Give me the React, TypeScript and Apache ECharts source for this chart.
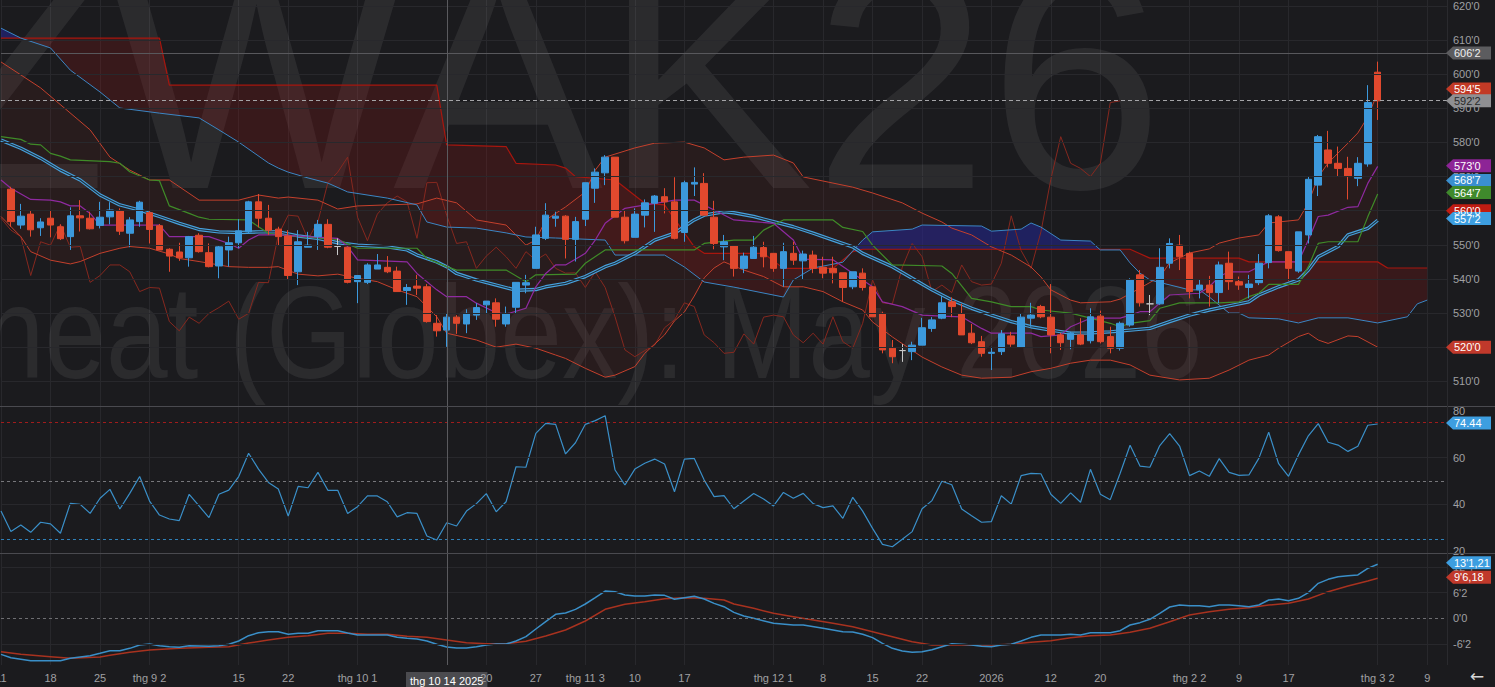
import React, { useEffect, useRef } from 'react';
import * as echarts from 'echarts';

// ---------- categories (trading days) ----------
const TRADING_DAYS: [number, number, number[]][] = [
  [2025, 8, [11, 12, 13, 14, 15, 18, 19, 20, 21, 22, 25, 26, 27, 28, 29]],
  [2025, 9, [2, 3, 4, 5, 8, 9, 10, 11, 12, 15, 16, 17, 18, 19, 22, 23, 24, 25, 26, 29, 30]],
  [2025, 10, [1, 2, 3, 6, 7, 8, 9, 10, 13, 14, 15, 16, 17, 20, 21, 22, 23, 24, 27, 28, 29, 30, 31]],
  [2025, 11, [3, 4, 5, 6, 7, 10, 11, 12, 13, 14, 17, 18, 19, 20, 21, 24, 25, 26, 28]],
  [2025, 12, [1, 2, 3, 4, 5, 8, 9, 10, 11, 12, 15, 16, 17, 18, 19, 22, 23, 24, 26, 29, 30, 31]],
  [2026, 1, [2, 5, 6, 7, 8, 9, 12, 13, 14, 15, 16, 20, 21, 22, 23, 26, 27, 28, 29, 30]],
  [2026, 2, [2, 3, 4, 5, 6, 9, 10, 11, 12, 13, 17, 18, 19, 20, 23, 24, 25, 26, 27]],
  [2026, 3, [2, 3, 4, 5, 6, 9, 10, 11]],
];
const CATEGORIES: string[] = TRADING_DAYS.flatMap(([y, m, days]) =>
  days.map((d) => `${y}-${String(m).padStart(2, '0')}-${String(d).padStart(2, '0')}`)
);

const X_TICKS: [string, string][] = [
  ['2025-08-11', '11'], ['2025-08-18', '18'], ['2025-08-25', '25'], ['2025-09-02', 'thg 9 2'],
  ['2025-09-15', '15'], ['2025-09-22', '22'], ['2025-10-01', 'thg 10 1'], ['2025-10-20', '20'],
  ['2025-10-27', '27'], ['2025-11-03', 'thg 11 3'], ['2025-11-10', '10'], ['2025-11-17', '17'],
  ['2025-12-01', 'thg 12 1'], ['2025-12-08', '8'], ['2025-12-15', '15'], ['2025-12-22', '22'],
  ['2026-01-02', '2026'], ['2026-01-12', '12'], ['2026-01-20', '20'], ['2026-02-02', 'thg 2 2'],
  ['2026-02-09', '9'], ['2026-02-17', '17'], ['2026-03-02', 'thg 3 2'], ['2026-03-09', '9'],
];
const CROSSHAIR: [string, string] = ['2025-10-14', 'thg 10 14 2025'];

// ---------- price candles [open, close, low, high], first bar = 2025-08-12 ----------
const FIRST_BAR_DATE = '2025-08-12';
const CANDLES: number[][] = [
  [566.3, 556.8, 555.3, 567.0], [555.8, 558.4, 554.7, 562.0], [559.0, 554.4, 552.4, 560.2], [555.0, 556.7, 552.6, 557.8],
  [557.8, 555.8, 552.2, 560.2], [555.3, 551.8, 551.4, 556.0], [552.4, 558.5, 548.5, 561.0], [558.5, 557.9, 553.9, 563.1],
  [557.8, 554.7, 554.5, 559.7], [555.7, 558.1, 554.8, 562.6], [558.2, 560.2, 556.0, 562.5], [560.0, 554.0, 552.9, 560.7],
  [553.4, 557.3, 549.3, 558.1], [556.8, 562.5, 555.3, 562.9], [559.4, 554.5, 550.4, 560.2], [555.6, 548.5, 548.5, 556.1],
  [548.7, 546.7, 542.1, 549.0], [547.9, 546.2, 545.3, 550.6], [546.2, 552.4, 543.6, 552.6], [552.8, 548.0, 547.7, 553.4],
  [547.7, 543.6, 543.4, 550.4], [543.8, 549.4, 540.2, 549.9], [548.5, 550.6, 543.6, 552.4], [550.6, 554.1, 549.0, 557.5],
  [553.8, 562.6, 553.2, 562.9], [562.6, 557.8, 555.1, 564.9], [557.8, 554.3, 552.9, 561.7], [554.6, 552.4, 549.9, 555.3],
  [552.6, 541.0, 539.7, 554.3], [542.1, 550.9, 538.2, 554.3], [549.3, 549.9, 549.3, 553.8], [552.4, 556.0, 548.5, 557.3],
  [556.0, 549.3, 549.0, 557.5], [549.5, 549.5, 547.0, 551.9], [549.3, 539.0, 538.7, 549.3], [539.2, 541.0, 532.9, 541.0],
  [539.0, 544.1, 538.5, 544.6], [542.9, 544.1, 542.9, 547.3], [543.4, 542.1, 541.7, 546.7], [542.3, 536.3, 536.3, 543.6],
  [536.6, 537.5, 532.4, 538.5], [537.9, 537.3, 535.3, 541.2], [537.7, 527.5, 527.2, 538.5], [527.0, 524.8, 523.1, 529.4],
  [525.0, 528.8, 520.1, 529.9], [528.8, 527.0, 523.9, 529.4], [526.8, 529.9, 524.1, 531.1], [529.4, 531.6, 528.0, 532.9],
  [532.4, 533.5, 529.9, 533.5], [533.0, 528.2, 526.0, 534.3], [526.8, 529.9, 526.0, 531.9], [531.7, 539.0, 529.9, 539.0],
  [538.2, 538.9, 535.8, 541.2], [543.1, 552.9, 543.1, 555.3], [551.9, 558.7, 551.4, 562.2], [557.8, 558.4, 555.3, 559.7],
  [558.4, 551.6, 546.0, 558.7], [551.6, 556.8, 545.1, 558.2], [557.5, 568.2, 555.5, 568.2], [566.6, 571.3, 562.3, 572.4],
  [571.1, 575.7, 567.5, 576.3], [575.7, 558.1, 558.1, 575.7], [558.1, 551.2, 550.4, 560.0], [552.2, 559.0, 552.2, 560.7],
  [558.7, 562.3, 555.1, 563.3], [562.2, 564.3, 553.8, 564.6], [564.1, 562.6, 559.2, 566.6], [562.6, 551.9, 551.6, 569.8],
  [553.6, 568.2, 550.9, 568.8], [567.8, 568.3, 564.3, 572.7], [568.0, 558.7, 558.7, 571.0], [558.1, 550.4, 548.7, 562.9],
  [549.4, 550.9, 545.5, 552.9], [549.7, 543.1, 540.7, 549.7], [543.1, 546.7, 541.7, 547.7], [546.0, 549.3, 546.0, 552.6],
  [549.2, 546.5, 543.4, 550.9], [547.5, 543.1, 542.1, 547.5], [543.1, 548.0, 537.7, 550.6], [547.5, 545.5, 544.1, 550.9],
  [545.3, 547.3, 539.7, 548.3], [547.0, 543.1, 541.7, 548.3], [543.4, 541.7, 540.2, 546.5], [543.1, 541.8, 538.7, 546.5],
  [541.8, 537.5, 533.3, 541.8], [537.7, 542.1, 537.0, 542.1], [541.7, 537.5, 536.6, 543.1], [537.7, 528.9, 528.9, 537.7],
  [529.9, 519.2, 518.2, 530.4], [519.7, 517.2, 515.3, 522.1], [519.0, 519.0, 515.7, 520.9], [518.7, 520.6, 516.2, 521.6],
  [520.6, 525.7, 520.6, 528.6], [525.5, 528.0, 524.5, 528.8], [528.5, 533.0, 528.2, 535.0], [533.3, 531.9, 528.8, 534.6],
  [529.7, 523.6, 523.6, 532.7], [524.1, 521.3, 520.9, 526.8], [521.6, 518.2, 517.2, 523.3], [518.2, 518.5, 513.3, 520.1],
  [518.7, 523.9, 517.7, 525.0], [523.3, 520.9, 520.1, 524.5], [520.0, 528.8, 520.0, 529.9], [528.5, 529.4, 526.0, 533.0],
  [531.9, 528.9, 528.5, 532.4], [528.8, 523.6, 518.2, 538.5], [523.6, 521.3, 519.2, 524.2], [522.3, 524.1, 519.4, 524.5],
  [523.6, 520.9, 520.6, 528.5], [521.9, 528.9, 521.1, 531.4], [529.1, 521.6, 521.1, 530.7], [523.1, 519.7, 518.2, 526.0],
  [519.7, 527.0, 519.0, 527.5], [526.5, 539.7, 526.0, 540.2], [541.2, 533.0, 531.9, 542.6], [532.7, 532.7, 529.4, 535.3],
  [532.7, 543.4, 532.4, 549.0], [544.6, 550.4, 543.1, 551.9], [549.9, 546.5, 542.6, 552.9], [547.5, 536.3, 534.3, 548.0],
  [536.8, 538.2, 534.3, 539.7], [538.2, 536.0, 531.9, 540.9], [536.0, 544.1, 532.9, 545.1], [544.6, 539.2, 536.8, 548.0],
  [539.2, 538.2, 536.8, 540.7], [537.5, 538.5, 534.3, 541.2], [538.9, 544.6, 538.2, 547.3], [544.8, 558.5, 543.1, 559.0],
  [558.2, 548.3, 548.0, 558.7], [548.0, 543.1, 539.5, 548.0], [542.3, 553.8, 541.8, 553.8], [552.9, 569.2, 550.4, 570.0],
  [567.5, 581.7, 564.3, 582.2], [577.8, 573.9, 572.7, 583.4], [573.9, 572.4, 570.0, 578.8], [572.4, 570.0, 563.3, 575.8],
  [569.5, 573.9, 567.2, 575.7], [573.7, 591.7, 572.9, 596.8], [600.6, 592.2, 586.6, 603.7],
];
const CHIKOU_SHIFT = 26;

// ---------- indicator lines: [bar index, value] read at the line's vertices ----------
const BB_UPPER: number[][] = [
  [0, 603.6], [4, 596.0], [9, 583.7], [11, 575.7], [13, 571.9], [15, 569.0], [17, 569.0], [20, 563.1], [24, 563.1],
  [26, 564.6], [28, 563.7], [29, 564.0], [32, 563.1], [34, 560.5], [36, 561.4], [39, 561.7], [42, 562.0], [44, 563.7],
  [46, 562.3], [48, 557.3], [51, 555.8], [53, 549.9], [54, 551.4], [55, 557.3], [57, 561.1], [59, 565.5], [60, 571.9],
  [61, 575.7], [64, 578.4], [66, 579.8], [69, 580.1], [71, 578.4], [73, 574.9], [75, 575.7], [78, 576.3], [80, 574.0],
  [81, 569.9], [84, 568.1], [86, 566.9], [88, 565.2], [91, 562.3], [93, 559.3], [95, 556.7], [96, 554.9], [98, 552.9],
  [100, 549.4], [102, 547.0], [104, 543.5], [105, 540.6], [106, 536.8], [108, 533.8], [109, 533.0], [112, 533.3],
  [113, 534.1], [115, 537.3], [117, 540.6], [118, 544.7], [120, 547.6], [122, 548.8], [123, 550.5], [125, 552.0],
  [127, 552.9], [128, 556.4], [131, 557.3], [132, 562.3], [133, 569.9], [134, 574.0], [135, 576.9], [136, 579.8],
  [137, 582.8], [138, 587.5], [139, 594.6],
];
const BB_LOWER: number[][] = [
  [0, 558.3], [2, 552.4], [3, 548.0], [5, 545.5], [7, 544.4], [8, 545.1], [10, 547.5], [12, 549.0], [13, 549.5],
  [15, 549.0], [17, 547.3], [18, 546.0], [20, 545.1], [22, 544.1], [23, 543.6], [25, 543.4], [27, 543.4], [28, 543.6],
  [30, 541.4], [32, 540.9], [34, 541.4], [36, 540.2], [38, 539.2], [40, 536.8], [42, 534.8], [44, 528.9], [45, 524.1],
  [48, 522.1], [50, 520.0], [52, 520.9], [54, 519.7], [56, 517.7], [57, 516.7], [59, 513.8], [61, 511.2], [62, 511.8],
  [64, 514.3], [65, 518.2], [67, 523.6], [68, 527.7], [69, 530.3], [70, 535.0], [71, 540.3], [72, 543.2], [73, 545.0],
  [75, 542.6], [77, 540.7], [79, 537.7], [81, 537.7], [83, 536.3], [85, 533.3], [87, 530.9], [88, 527.4], [90, 523.0],
  [93, 517.1], [95, 514.2], [97, 511.8], [99, 510.9], [102, 511.2], [104, 512.8], [106, 513.8], [108, 515.3],
  [110, 516.2], [112, 516.2], [114, 514.8], [116, 511.8], [119, 510.4], [122, 510.9], [124, 513.3], [126, 516.2],
  [128, 517.7], [129, 519.7], [131, 523.1], [132, 524.1], [133, 522.1], [134, 521.1], [136, 523.3], [137, 523.1],
  [139, 520.0],
];
const BB_MID: number[][] = [
  [0, 580.7], [2, 578.3], [4, 575.4], [6, 571.9], [8, 569.0], [10, 564.6], [12, 561.7], [14, 560.2], [16, 558.3],
  [18, 556.3], [20, 554.5], [22, 553.8], [24, 553.6], [26, 553.8], [28, 553.8], [30, 552.6], [32, 551.9], [34, 550.6],
  [36, 549.9], [39, 549.4], [41, 548.5], [42, 547.0], [44, 545.0], [45, 543.6], [46, 541.6], [48, 539.7], [50, 538.2],
  [52, 536.7], [54, 536.9], [55, 537.7], [57, 538.7], [59, 540.7], [61, 543.6], [62, 544.6], [64, 547.5], [66, 551.4],
  [68, 553.4], [70, 557.3], [71, 558.7], [73, 559.7], [74, 559.4], [76, 558.3], [78, 556.8], [80, 555.3], [82, 553.4],
  [84, 551.4], [86, 549.4], [87, 547.5], [90, 543.6], [92, 540.2], [94, 536.8], [96, 533.8], [98, 531.4], [100, 529.4],
  [102, 527.5], [104, 526.0], [106, 525.0], [108, 524.1], [110, 524.2], [112, 524.5], [114, 525.0], [116, 525.5],
  [118, 527.5], [120, 529.4], [122, 530.9], [124, 532.1], [126, 533.3], [127, 535.3], [129, 537.7], [131, 539.7],
  [132, 542.6], [133, 546.5], [135, 549.5], [136, 552.9], [138, 554.8], [139, 557.2],
];
const TENKAN: number[][] = [
  [0, 569.0], [1, 566.6], [3, 563.3], [5, 563.1], [6, 562.6], [7, 561.4], [8, 561.4], [9, 559.2], [10, 555.8],
  [16, 555.8], [17, 552.4], [21, 552.4], [23, 550.4], [24, 549.0], [25, 551.4], [26, 552.9], [28, 552.9], [34, 551.9],
  [35, 549.5], [36, 545.6], [41, 545.0], [42, 541.6], [44, 536.8], [45, 534.8], [47, 534.8], [48, 532.9], [50, 530.1],
  [51, 529.7], [53, 531.4], [54, 537.7], [55, 541.6], [56, 544.1], [57, 544.1], [59, 547.5], [60, 551.4], [61, 556.3],
  [63, 560.7], [64, 561.2], [67, 562.6], [68, 563.1], [70, 563.1], [72, 560.2], [74, 557.3], [76, 556.8], [78, 556.3],
  [80, 551.4], [81, 545.8], [84, 545.6], [86, 541.7], [88, 537.7], [89, 533.3], [91, 531.9], [93, 529.4], [95, 529.1],
  [97, 528.9], [99, 525.5], [100, 524.1], [104, 524.1], [105, 523.1], [107, 523.6], [108, 526.0], [110, 528.5],
  [113, 528.5], [114, 529.4], [115, 530.4], [116, 530.4], [117, 532.9], [118, 535.3], [121, 535.8], [122, 537.7],
  [123, 540.7], [124, 542.1], [126, 542.1], [127, 543.6], [128, 545.0], [131, 545.0], [132, 551.4], [133, 558.3],
  [134, 558.7], [136, 561.0], [137, 561.2], [138, 568.0], [139, 573.0],
];
const KIJUN: number[][] = [
  [0, 581.7], [2, 580.9], [3, 579.5], [4, 579.3], [5, 576.8], [6, 576.0], [7, 574.9], [11, 574.4], [12, 573.9],
  [13, 571.4], [15, 569.0], [16, 568.8], [17, 561.4], [19, 559.2], [20, 558.1], [21, 557.5], [25, 557.3], [26, 555.3],
  [27, 553.4], [28, 552.9], [34, 551.6], [36, 549.0], [42, 549.0], [43, 546.0], [45, 543.6], [46, 542.6], [51, 542.6],
  [53, 539.2], [54, 541.2], [58, 541.4], [59, 544.6], [61, 548.5], [70, 548.5], [71, 550.4], [74, 551.4], [76, 551.4],
  [77, 554.3], [79, 557.3], [84, 557.3], [85, 555.1], [87, 553.9], [88, 549.9], [90, 544.1], [95, 543.8], [96, 541.6],
  [98, 534.3], [100, 533.3], [102, 531.9], [104, 531.9], [105, 530.9], [108, 530.0], [110, 528.5], [112, 527.0],
  [113, 526.0], [114, 527.0], [116, 527.8], [117, 531.4], [119, 533.0], [123, 533.0], [125, 533.3], [126, 534.8],
  [127, 535.8], [128, 538.4], [131, 538.4], [132, 543.6], [133, 550.4], [134, 550.9], [137, 550.9], [138, 558.2],
  [139, 564.9],
];
const SENKOU_A: number[][] = [
  [0, 613.5], [2, 610.6], [5, 607.7], [7, 601.2], [10, 594.8], [12, 590.1], [16, 588.6], [20, 587.2], [22, 583.7],
  [24, 580.1], [27, 574.0], [28, 572.5], [29, 571.3], [31, 569.6], [33, 568.1], [35, 565.5], [39, 563.7], [42, 561.7],
  [43, 556.7], [45, 555.2], [48, 554.9], [51, 553.5], [53, 552.3], [56, 552.0], [61, 551.4], [62, 547.0], [67, 547.0],
  [69, 543.5], [71, 539.1], [74, 537.6], [79, 534.7], [80, 539.7], [82, 543.2], [85, 544.9], [86, 548.2], [87, 551.4],
  [88, 553.8], [92, 554.6], [93, 555.8], [99, 555.5], [100, 554.0], [103, 554.6], [104, 556.4], [105, 555.2],
  [107, 551.4], [110, 551.1], [111, 548.5], [113, 548.5], [114, 544.7], [115, 541.7], [116, 539.7], [120, 536.8],
  [121, 536.8], [122, 534.7], [124, 530.0], [125, 530.0], [126, 528.6], [129, 528.3], [131, 527.1], [133, 528.6],
  [136, 528.6], [139, 527.1], [142, 528.9], [143, 532.7], [144, 533.8],
];
const SENKOU_B: number[][] = [
  [0, 610.6], [16, 610.6], [17, 596.8], [44, 596.8], [45, 579.3], [51, 578.8], [52, 573.9], [56, 573.4], [57, 572.5],
  [58, 570.0], [62, 569.0], [65, 562.2], [67, 561.7], [70, 549.4], [71, 547.5], [77, 547.5], [79, 543.1], [84, 543.1],
  [86, 548.0], [87, 548.7], [113, 548.7], [114, 548.7], [116, 546.1], [125, 546.1], [126, 545.0], [139, 545.0],
  [140, 543.2], [144, 543.2],
];
// cloud colour segments [from, to, bullish?]
const CLOUD_SEGMENTS: [number, number, boolean][] = [[0, 2, true], [2, 86, false], [86, 113, true], [113, 146, false]];

// ---------- RSI (one value per bar, from bar 0) ----------
const RSI: number[] = [
  37.1, 28.3, 31.1, 28.0, 32.3, 31.6, 27.6, 40.4, 40.0, 36.1, 42.6, 46.4, 38.0, 44.7, 51.9, 41.4, 35.4, 33.7, 33.0, 44.3,
  39.3, 34.3, 44.3, 46.1, 51.9, 61.9, 55.1, 49.4, 46.6, 35.0, 47.7, 47.1, 53.7, 46.0, 46.0, 36.1, 39.0, 43.6, 43.6, 41.1,
  34.6, 36.4, 36.1, 26.4, 24.7, 32.1, 30.7, 37.1, 40.3, 44.6, 36.8, 41.1, 56.1, 55.9, 70.4, 74.7, 74.3, 61.6, 66.4, 74.3,
  75.9, 78.0, 54.7, 48.3, 55.1, 57.6, 59.4, 57.3, 45.4, 59.4, 59.7, 50.4, 43.3, 43.7, 38.1, 41.4, 44.6, 42.3, 39.3, 45.1,
  42.6, 44.7, 40.3, 38.6, 39.3, 34.0, 43.0, 37.1, 29.7, 22.8, 21.8, 25.0, 28.3, 38.1, 41.6, 49.9, 48.4, 38.0, 35.1, 32.3,
  32.6, 43.7, 40.1, 52.3, 53.3, 53.1, 44.3, 40.4, 44.9, 40.9, 55.0, 44.3, 42.0, 53.3, 65.3, 56.4, 55.9, 65.2, 70.3, 65.0,
  52.3, 54.3, 52.0, 59.6, 53.7, 52.4, 52.6, 59.7, 70.9, 57.4, 52.0, 61.2, 69.4, 74.6, 66.6, 65.4, 62.7, 64.9, 73.9, 74.44,
];
const RSI_LEVELS = { upper: 75, middle: 50, lower: 25 };

// ---------- MACD ----------
const MACD_LINE: number[][] = [
  [0, -8.77], [1, -9.58], [3, -10.31], [6, -10.31], [7, -9.74], [9, -9.09], [10, -8.52], [11, -7.88], [12, -7.88],
  [13, -7.31], [14, -6.5], [15, -6.25], [16, -6.66], [17, -6.9], [18, -7.06], [19, -6.66], [21, -6.82], [22, -6.66],
  [23, -6.33], [24, -5.52], [25, -4.23], [26, -3.5], [27, -3.25], [28, -3.25], [29, -3.9], [30, -3.66], [31, -3.66],
  [32, -3.01], [34, -3.01], [35, -3.58], [36, -4.06], [39, -4.06], [40, -4.63], [41, -4.87], [42, -5.04], [43, -5.52],
  [44, -6.33], [45, -6.98], [46, -7.23], [47, -7.23], [48, -6.9], [49, -6.5], [50, -6.25], [51, -6.25], [52, -5.52],
  [53, -4.47], [54, -2.6], [55, -0.82], [56, 0.97], [57, 1.29], [58, 2.18], [59, 3.48], [60, 5.02], [61, 6.64],
  [62, 6.48], [63, 5.67], [64, 5.43], [65, 5.43], [66, 5.67], [67, 5.59], [68, 4.62], [69, 5.02], [70, 5.35], [71, 4.7],
  [72, 3.64], [73, 2.83], [74, 1.45], [75, 0.56], [76, -0.01], [78, -1.22], [80, -1.63], [81, -1.63], [83, -2.44],
  [85, -3.25], [86, -3.33], [87, -3.9], [88, -4.71], [89, -6.09], [90, -7.31], [91, -7.96], [92, -8.28], [93, -8.12],
  [94, -7.63], [95, -6.9], [96, -6.17], [97, -6.33], [98, -6.5], [99, -6.82], [100, -6.9], [101, -6.5], [102, -6.33],
  [103, -5.52], [104, -4.63], [105, -4.06], [107, -4.06], [108, -3.9], [109, -4.06], [110, -3.5], [112, -3.5],
  [113, -3.01], [114, -1.63], [115, -1.06], [116, -0.25], [117, 1.21], [118, 2.75], [119, 3.24], [120, 3.07],
  [121, 3.07], [122, 2.83], [123, 3.24], [124, 3.24], [125, 3.07], [126, 2.83], [127, 3.24], [128, 4.45], [129, 4.7],
  [130, 4.29], [131, 4.86], [132, 6.24], [133, 8.51], [134, 9.48], [135, 10.13], [136, 10.37], [137, 10.54],
  [138, 12.16], [139, 13.15],
];
const MACD_SIGNAL: number[][] = [
  [0, -8.12], [2, -8.77], [5, -9.34], [7, -9.74], [10, -9.42], [11, -9.0], [13, -8.28], [15, -7.71], [18, -7.31],
  [21, -7.06], [23, -6.9], [25, -6.01], [27, -5.28], [29, -4.63], [31, -4.23], [33, -3.66], [35, -3.66], [37, -3.9],
  [39, -3.9], [41, -4.39], [43, -4.63], [45, -5.28], [47, -5.93], [49, -6.17], [51, -6.17], [53, -5.6], [55, -4.31],
  [57, -2.85], [59, -0.66], [61, 2.18], [63, 3.4], [65, 4.05], [67, 4.78], [69, 5.02], [71, 4.86], [73, 4.45],
  [74, 3.48], [76, 2.43], [78, 1.21], [80, 0.4], [82, -0.41], [84, -1.22], [86, -2.04], [88, -3.25], [90, -4.47],
  [92, -5.69], [94, -6.5], [100, -6.5], [102, -6.33], [104, -5.85], [106, -5.44], [108, -4.71], [110, -4.23],
  [112, -4.06], [114, -3.41], [116, -2.44], [118, -0.82], [120, 0.8], [122, 1.61], [124, 2.18], [126, 2.59],
  [128, 3.24], [130, 3.64], [132, 4.7], [134, 6.48], [136, 7.86], [138, 9.08], [139, 9.75],
];

// ---------- axis ticks & value tags ----------
const PRICE_GRID: number[] = [510, 520, 530, 540, 550, 560, 570, 580, 590, 600, 610, 620];
const HIGH_LINE = 606.25;
const LAST_PRICE = 592.25;
const RSI_GRID: number[] = [40, 60];
const MACD_GRID: number[] = [-6.25, 6.25, 12.5];

const PRICE_TAGS = [
  { value: 606.25, text: "606'2", color: '#5c5c5f', textColor: '#eeeeee', dy: 0 },
  { value: 594.625, text: "594'5", color: '#c23a26', textColor: '#ffffff', dy: -3.5 },
  { value: 592.25, text: "592'2", color: '#8f8f92', textColor: '#2a2a2a', dy: 0 },
  { value: 573.0, text: "573'0", color: '#8d2496', textColor: '#ffffff', dy: -0.5 },
  { value: 568.875, text: "568'7", color: '#3a8fcf', textColor: '#ffffff', dy: 0 },
  { value: 564.875, text: "564'7", color: '#3f8a2c', textColor: '#ffffff', dy: -1.5 },
  { value: 560.0, text: "560'0", color: '#c01c12', textColor: '#ffffff', dy: 0 },
  { value: 557.25, text: "557'2", color: '#3d9ee0', textColor: '#ffffff', dy: -1.5 },
  { value: 520.0, text: "520'0", color: '#c0392b', textColor: '#ffffff', dy: 0 },
];
const RSI_TAGS = [{ value: 74.44, text: '74.44', color: '#3d9ee0', textColor: '#ffffff', dy: -1 }];
const MACD_TAGS = [
  { value: 13.15, text: "13'1,21", color: '#3d9ee0', textColor: '#ffffff', dy: -1.5 },
  { value: 9.75, text: "9'6,18", color: '#c0392b', textColor: '#ffffff', dy: -1 },
];

const WATERMARK_SYMBOL = 'ZWAK26';
const WATERMARK_NAME = 'Wheat (Globex): May 2026';

// ---------- styles ----------
const BG = '#1b1b1e';
const GRID_C = '#28282c';
const UP = '#3c99dc';
const DOWN = '#e1492e';
const FONT = '"Liberation Sans", Arial, sans-serif';
const LABEL_C = '#a0a0a3';

const fmtEighths = (v: number) => {
  const sign = v < 0 ? '-' : '';
  const a = Math.abs(v);
  let i = Math.floor(a + 1e-9);
  let e = Math.round((a - i) * 8);
  if (e === 8) { i += 1; e = 0; }
  return `${sign}${i}'${e}`;
};

const idxOf = (d: string) => CATEGORIES.indexOf(d);

export default function App() {
  const ref = useRef<HTMLDivElement>(null);

  useEffect(() => {
    const el = ref.current;
    if (!el) return;
    const chart = echarts.init(el, null, { renderer: 'svg' });

    const firstBar = idxOf(FIRST_BAR_DATE);
    const closes: number[] = [];
    CANDLES.forEach((c, k) => { closes[firstBar + k] = c[1]; });
    const chikou: number[][] = [];
    for (let i = 0; i < CATEGORIES.length; i++) {
      const c = closes[i + CHIKOU_SHIFT];
      if (c !== undefined) chikou.push([i, c]);
    }
    const candleData = CANDLES.map((c, k) => [firstBar + k, c[0], c[1], c[2], c[3]]);

    const tickMap = new Map<number, string>();
    X_TICKS.forEach(([d, l]) => tickMap.set(idxOf(d), l));
    const crossIdx = idxOf(CROSSHAIR[0]);

    const LEFT = 1;
    const RIGHT = 48;
    const gridBase = { left: LEFT, right: RIGHT, containLabel: false, outerBoundsMode: 'none' };

    const hiddenX = (gi: number) => ({
      type: 'category', gridIndex: gi, data: CATEGORIES, boundaryGap: false,
      axisLine: { show: false }, axisTick: { show: false }, axisLabel: { show: false }, splitLine: { show: false },
    });

    const lineS = (data: number[][], color: string, width = 1, extra: any = {}) => ({
      type: 'line', xAxisIndex: 0, yAxisIndex: 0, data, symbol: 'none', silent: true, z: 3,
      lineStyle: { color, width }, ...extra,
    });

    const fillRender = (params: any, api: any) => {
      const band = (upper: number[][], lower: number[][], a: number, b: number) => {
        const up = upper.filter((p) => p[0] >= a && p[0] <= b);
        const lo = lower.filter((p) => p[0] >= a && p[0] <= b).slice().reverse();
        return up.concat(lo).map((p) => api.coord([p[0], p[1]]));
      };
      const children: any[] = [
        { type: 'polygon', shape: { points: band(BB_UPPER, BB_LOWER, 0, 146) }, style: { fill: 'rgba(150,40,30,0.11)' } },
      ];
      CLOUD_SEGMENTS.forEach(([a, b, bull]) => {
        children.push({
          type: 'polygon',
          shape: { points: band(SENKOU_B, SENKOU_A, a, b) },
          style: { fill: bull ? 'rgba(34,38,150,0.55)' : 'rgba(150,22,22,0.24)' },
        });
      });
      return { type: 'group', children };
    };

    const crossRender = (params: any, api: any) => {
      const x = Math.round(api.coord([api.value(0), 0.5])[0]) + 0.5;
      const cs = params.coordSys;
      return { type: 'line', shape: { x1: x, y1: cs.y, x2: x, y2: cs.y + cs.height }, style: { stroke: '#5a5a5e', lineWidth: 1 } };
    };

    const option: any = {
      animation: false,
      backgroundColor: BG,
      textStyle: { fontFamily: FONT },
      grid: [
        { ...gridBase, top: -28.118, height: 443.53 },   // price pane (500..630)
        { ...gridBase, top: 364.4, height: 233.2 },      // RSI pane (0..100)
        { ...gridBase, top: 541.24, height: 128.44 },    // MACD pane (-12.5..18.75)
        { ...gridBase, top: 0, height: 665 },            // vertical grid + x labels
      ],
      xAxis: [
        hiddenX(0), hiddenX(1), hiddenX(2),
        {
          type: 'category', gridIndex: 3, data: CATEGORIES, boundaryGap: false,
          axisLine: { show: false }, axisTick: { show: false },
          splitLine: { show: true, interval: (i: number) => tickMap.has(i), lineStyle: { color: GRID_C, width: 1 } },
          axisLabel: {
            interval: 0, margin: 7, color: LABEL_C, fontSize: 11, fontFamily: FONT,
            formatter: (_v: string, i: number) => {
              if (i === crossIdx) return `{hl|${CROSSHAIR[1]}}`;
              return tickMap.get(i) ?? '';
            },
            rich: { hl: { backgroundColor: '#4b4b4f', color: '#ffffff', padding: [3, 4, 3, 4], fontSize: 11, fontFamily: FONT } },
          },
        },
      ],
      yAxis: [
        {
          type: 'value', gridIndex: 0, position: 'right', min: 500, max: 630, interval: 10, scale: false,
          axisLine: { show: false }, axisTick: { show: false }, splitLine: { show: false },
          axisLabel: { margin: 6, color: LABEL_C, fontSize: 11, fontFamily: FONT, formatter: (v: number) => (v < 505 || v > 625 ? '' : fmtEighths(v)) },
        },
        {
          type: 'value', gridIndex: 1, position: 'right', min: 0, max: 100, interval: 20,
          axisLine: { show: false }, axisTick: { show: false }, splitLine: { show: false },
          axisLabel: { margin: 6, color: LABEL_C, fontSize: 11, fontFamily: FONT, formatter: (v: number) => (v <= 0 || v >= 100 ? '' : String(v)) },
        },
        {
          type: 'value', gridIndex: 2, position: 'right', min: -12.5, max: 18.75, interval: 6.25,
          axisLine: { show: false }, axisTick: { show: false }, splitLine: { show: false },
          axisLabel: { margin: 6, color: LABEL_C, fontSize: 11, fontFamily: FONT, formatter: (v: number) => (v < -12 || v > 18 ? '' : fmtEighths(v)) },
        },
        { type: 'value', gridIndex: 3, min: 0, max: 1, show: false },
      ],
      series: [
        {
          type: 'custom', xAxisIndex: 0, yAxisIndex: 0, data: [[0, 0]], renderItem: fillRender, silent: true, z: 1, clip: true,
        },
        lineS(chikou, '#86281f', 1, {
          markLine: {
            silent: true, symbol: ['none', 'none'], label: { show: false },
            lineStyle: { color: GRID_C, width: 1, type: 'solid' },
            data: [
              ...PRICE_GRID.map((v) => ({ yAxis: v })),
              { yAxis: HIGH_LINE, lineStyle: { color: '#58585c', width: 1, type: 'solid' } },
              { yAxis: LAST_PRICE, lineStyle: { color: '#a5a5a8', width: 1, type: [4, 3] } },
            ],
          },
        }),
        lineS(BB_UPPER, '#c4402c', 1),
        lineS(BB_LOWER, '#c4402c', 1),
        lineS(SENKOU_B, '#a8160e', 1.2),
        lineS(SENKOU_A, '#3b86c4', 1),
        lineS(BB_MID, '#47a2de', 3.4),
        lineS(BB_MID, 'rgba(27,27,30,0.85)', 1.1),
        lineS(KIJUN, '#3f8b28', 1.2),
        lineS(TENKAN, '#8f2aa0', 1.2),
        {
          type: 'candlestick', xAxisIndex: 0, yAxisIndex: 0, data: candleData, encode: { x: 0, y: [1, 2, 3, 4] },
          barWidth: 7, silent: true, z: 4,
          itemStyle: { color: UP, color0: DOWN, borderColor: UP, borderColor0: DOWN, borderColorDoji: '#c9c9c9', borderWidth: 1 },
        },
        {
          type: 'line', xAxisIndex: 1, yAxisIndex: 1, data: RSI.map((v, i) => [i, v]), symbol: 'none', silent: true, z: 3,
          lineStyle: { color: '#3a8fc8', width: 1.2 },
          markLine: {
            silent: true, symbol: ['none', 'none'], label: { show: false },
            lineStyle: { color: GRID_C, width: 1, type: 'solid' },
            data: [
              ...RSI_GRID.map((v) => ({ yAxis: v })),
              { yAxis: RSI_LEVELS.upper, lineStyle: { color: '#a01c1c', width: 1, type: [3, 3] } },
              { yAxis: RSI_LEVELS.middle, lineStyle: { color: '#77777b', width: 1, type: [3, 3] } },
              { yAxis: RSI_LEVELS.lower, lineStyle: { color: '#2f80b8', width: 1, type: [3, 3] } },
            ],
          },
        },
        {
          type: 'line', xAxisIndex: 2, yAxisIndex: 2, data: MACD_LINE, symbol: 'none', silent: true, z: 4,
          lineStyle: { color: '#3a8fc8', width: 1.5 },
          markLine: {
            silent: true, symbol: ['none', 'none'], label: { show: false },
            lineStyle: { color: GRID_C, width: 1, type: 'solid' },
            data: [
              ...MACD_GRID.map((v) => ({ yAxis: v })),
              { yAxis: 0, lineStyle: { color: '#6e6e72', width: 1, type: [3, 3] } },
            ],
          },
        },
        {
          type: 'line', xAxisIndex: 2, yAxisIndex: 2, data: MACD_SIGNAL, symbol: 'none', silent: true, z: 3,
          lineStyle: { color: '#a8321f', width: 1.5 },
        },
        {
          type: 'custom', xAxisIndex: 3, yAxisIndex: 3, data: [[crossIdx, 0.5]], renderItem: crossRender, silent: true, z: 5, clip: false,
        },
      ],
    };

    chart.setOption(option);

    const tagEls = (axis: number, tags: any[]) => {
      const out: any[] = [];
      tags.forEach((t) => {
        const y = (chart.convertToPixel({ yAxisIndex: axis } as any, t.value) as number) + t.dy;
        const x0 = 1446, x1 = 1491, h = 6.5;
        out.push({
          type: 'polygon', z: 100,
          shape: { points: [[x0, y], [x0 + 7, y - h], [x1, y - h], [x1, y + h], [x0 + 7, y + h]] },
          style: { fill: t.color },
        });
        out.push({
          type: 'text', z: 101, x: x0 + 8, y,
          style: { text: t.text, fill: t.textColor, font: `11px ${FONT}`, textAlign: 'left', textVerticalAlign: 'middle' },
        });
      });
      return out;
    };

    const elements: any[] = [
      {
        type: 'text', z: 0, x: -85, y: 79, silent: true,
        style: { text: WATERMARK_SYMBOL, font: `315px ${FONT}`, fill: 'rgba(255,255,255,0.07)', textAlign: 'left', textVerticalAlign: 'middle' },
      },
      {
        type: 'text', z: 0, x: -122, y: 333, scaleX: 0.84, scaleY: 1, silent: true,
        style: { text: WATERMARK_NAME, font: `132px ${FONT}`, fill: 'rgba(255,255,255,0.07)', textAlign: 'left', textVerticalAlign: 'middle' },
      },
      { type: 'line', z: 50, shape: { x1: 0, y1: 406.5, x2: 1495, y2: 406.5 }, style: { stroke: '#4a4a4f', lineWidth: 1 } },
      { type: 'line', z: 50, shape: { x1: 0, y1: 553.5, x2: 1495, y2: 553.5 }, style: { stroke: '#4a4a4f', lineWidth: 1 } },
      { type: 'line', z: 50, shape: { x1: 1447.5, y1: 0, x2: 1447.5, y2: 665 }, style: { stroke: '#2a2a2e', lineWidth: 1 } },
      ...tagEls(0, PRICE_TAGS),
      ...tagEls(1, RSI_TAGS),
      ...tagEls(2, MACD_TAGS),
      {
        type: 'text', z: 60, x: 1477, y: 676,
        style: { text: '\u2190', font: '17px "DejaVu Sans", sans-serif', fill: '#d6d6d6', textAlign: 'center', textVerticalAlign: 'middle' },
      },
    ];
    chart.setOption({ graphic: { elements } });

    return () => chart.dispose();
  }, []);

  return <div ref={ref} style={{ position: 'fixed', left: 0, top: 0, width: 1495, height: 687, background: BG }} />;
}
